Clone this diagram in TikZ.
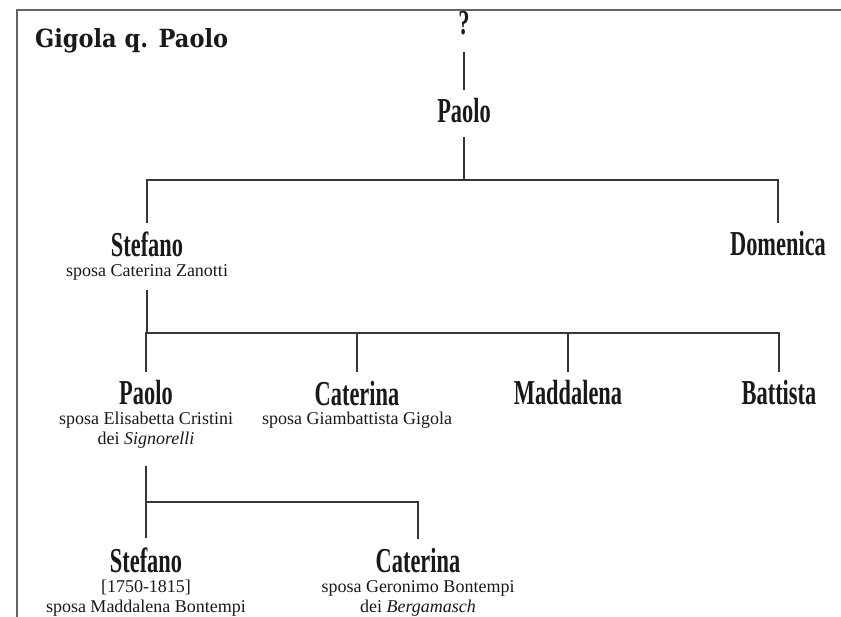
\documentclass[tikz,border=0pt]{standalone}
\usepackage{fontspec}
\setmainfont{Liberation Serif}
\newfontfamily\namefont{Liberation Serif}[FakeStretch=0.64]
\newfontfamily\titlefont{DejaVu Serif}[FakeStretch=0.9]
\usetikzlibrary{positioning}
\definecolor{linecol}{RGB}{55,55,55}
\definecolor{framecol}{RGB}{100,100,100}
\newcommand{\nm}[1]{{\namefont\bfseries\fontsize{35}{38}\selectfont #1}}

\begin{document}
\begin{tikzpicture}[x=1pt,y=-1pt,
  person/.style={align=center,anchor=base,inner xsep=0pt,inner ysep=0pt,
                 outer ysep=9pt,text=black!90,font=\fontsize{18}{20}\selectfont},
  tree/.style={draw=linecol,line width=1.3pt}]
  \useasboundingbox (0,0) rectangle (841,617);
  \draw[framecol,line width=2pt](17,617)--(17,10)--(841,10);
  \node[anchor=base west,inner sep=0pt,text=black!90,
        font=\titlefont\bfseries\fontsize{25}{28}\selectfont] (title) at (35,48) {Gigola q. Paolo};
  % first generations (base = last line)
  \node[person] (q) at (464,35) {\nm{?}};
  \node[person] (paolo) at (464,123) {\nm{Paolo}};
  \node[person] (stefano) at (147,277) {\nm{Stefano}\\sposa Caterina Zanotti};
  \node[person] (domenica) at (778,256) {\nm{Domenica}};
  % children of Stefano
  \node[person] (paolo2) at (146,445) {\nm{Paolo}\\sposa Elisabetta Cristini\\dei \textit{Signorelli}};
  \node[person] (caterina) at (357,425) {\nm{Caterina}\\sposa Giambattista Gigola};
  \node[person] (maddalena) at (568,405) {\nm{Maddalena}};
  \node[person] (battista) at (779,405) {\nm{Battista}};
  % children of Paolo
  \node[person] (stefano2) at (146,612) {\nm{Stefano}\\{[1750-1815]}\\sposa Maddalena Bontempi};
  \node[person] (caterina2) at (418,612) {\nm{Caterina}\\sposa Geronimo Bontempi\\dei \textit{Bergamasch}};
  % connectors
  \coordinate (b1) at (464,180);
  \coordinate (b2) at (147,333);
  \coordinate (b3) at (146,502);
  \draw[tree,shorten <=8pt] (q.south) -- (paolo.north);
  \draw[tree,shorten <=5pt] (paolo.south) -- (b1);
  \draw[tree] (stefano.north) |- (b1) -| (domenica.north);
  \draw[tree] (stefano.south) -- (stefano.south |- b2);
  \draw[tree] (paolo2.north) |- (b2) -| (battista.north);
  \draw[tree] (caterina.north) -- (caterina.north |- b2);
  \draw[tree] (maddalena.north) -- (maddalena.north |- b2);
  \draw[tree,shorten <=8pt] (paolo2.south) -- (b3);
  \draw[tree] (stefano2.north) |- (b3) -| (caterina2.north);
\end{tikzpicture}
\end{document}
